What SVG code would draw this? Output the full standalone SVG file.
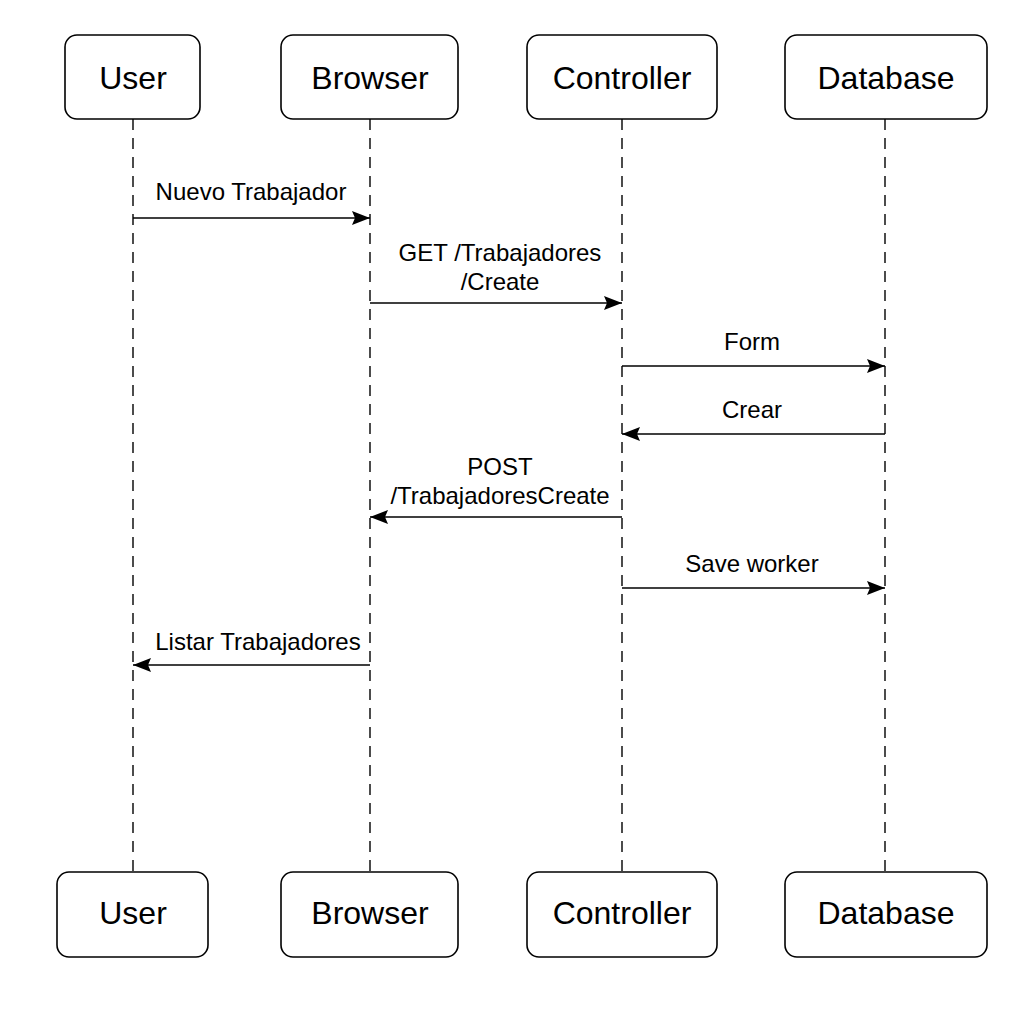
<svg xmlns="http://www.w3.org/2000/svg" width="1024" height="1024" viewBox="0 0 1024 1024">
<style>
.box{fill:#fff;stroke:#000;stroke-width:1.6}
.nl{font-family:"Liberation Sans",Arial,sans-serif;font-size:32px;fill:#000;text-anchor:middle}
.ml{font-family:"Liberation Sans",Arial,sans-serif;font-size:24px;fill:#000;text-anchor:middle}
.life{stroke:#000;stroke-width:1.4;stroke-dasharray:11 8;fill:none}
.msg{stroke:#000;stroke-width:1.6;fill:none;marker-end:url(#ah)}
</style>
<defs>
<marker id="ah" markerWidth="19" markerHeight="14" refX="18" refY="7" orient="auto" markerUnits="userSpaceOnUse">
<path d="M0,0 L18,7 L0,14 L3,7 Z" fill="#000"/>
</marker>
</defs>
<rect width="1024" height="1024" fill="#fff"/>
<g id="lifelines">
<line class="life" x1="133" y1="119" x2="133" y2="872"/>
<line class="life" x1="370" y1="119" x2="370" y2="872"/>
<line class="life" x1="622" y1="119" x2="622" y2="872"/>
<line class="life" x1="885" y1="119" x2="885" y2="872"/>
</g>
<g id="user-top"><rect class="box" x="65" y="35" width="135" height="84" rx="12"/><text class="nl" x="133" y="89">User</text></g>
<g id="browser-top"><rect class="box" x="281" y="35" width="177" height="84" rx="12"/><text class="nl" x="370" y="89">Browser</text></g>
<g id="controller-top"><rect class="box" x="527" y="35" width="190" height="84" rx="12"/><text class="nl" x="622" y="89">Controller</text></g>
<g id="database-top"><rect class="box" x="785" y="35" width="202" height="84" rx="12"/><text class="nl" x="886" y="89">Database</text></g>
<g id="user-bottom"><rect class="box" x="57" y="872" width="151" height="85" rx="12"/><text class="nl" x="133" y="924">User</text></g>
<g id="browser-bottom"><rect class="box" x="281" y="872" width="177" height="85" rx="12"/><text class="nl" x="370" y="924">Browser</text></g>
<g id="controller-bottom"><rect class="box" x="527" y="872" width="190" height="85" rx="12"/><text class="nl" x="622" y="924">Controller</text></g>
<g id="database-bottom"><rect class="box" x="785" y="872" width="202" height="85" rx="12"/><text class="nl" x="886" y="924">Database</text></g>
<g id="connectors">
<line class="msg" x1="133" y1="218" x2="370" y2="218"/>
<text class="ml" x="251" y="200">Nuevo Trabajador</text>
<line class="msg" x1="370" y1="303" x2="622" y2="303"/>
<text class="ml" x="500" y="261">GET /Trabajadores</text>
<text class="ml" x="500" y="290">/Create</text>
<line class="msg" x1="622" y1="366" x2="885" y2="366"/>
<text class="ml" x="752" y="350">Form</text>
<line class="msg" x1="885" y1="434" x2="622" y2="434"/>
<text class="ml" x="752" y="418">Crear</text>
<line class="msg" x1="622" y1="517" x2="370" y2="517"/>
<text class="ml" x="500" y="475">POST</text>
<text class="ml" x="500" y="504">/TrabajadoresCreate</text>
<line class="msg" x1="622" y1="588" x2="885" y2="588"/>
<text class="ml" x="752" y="572">Save worker</text>
<line class="msg" x1="370" y1="665" x2="133" y2="665"/>
<text class="ml" x="258" y="650">Listar Trabajadores</text>
</g>
</svg>
